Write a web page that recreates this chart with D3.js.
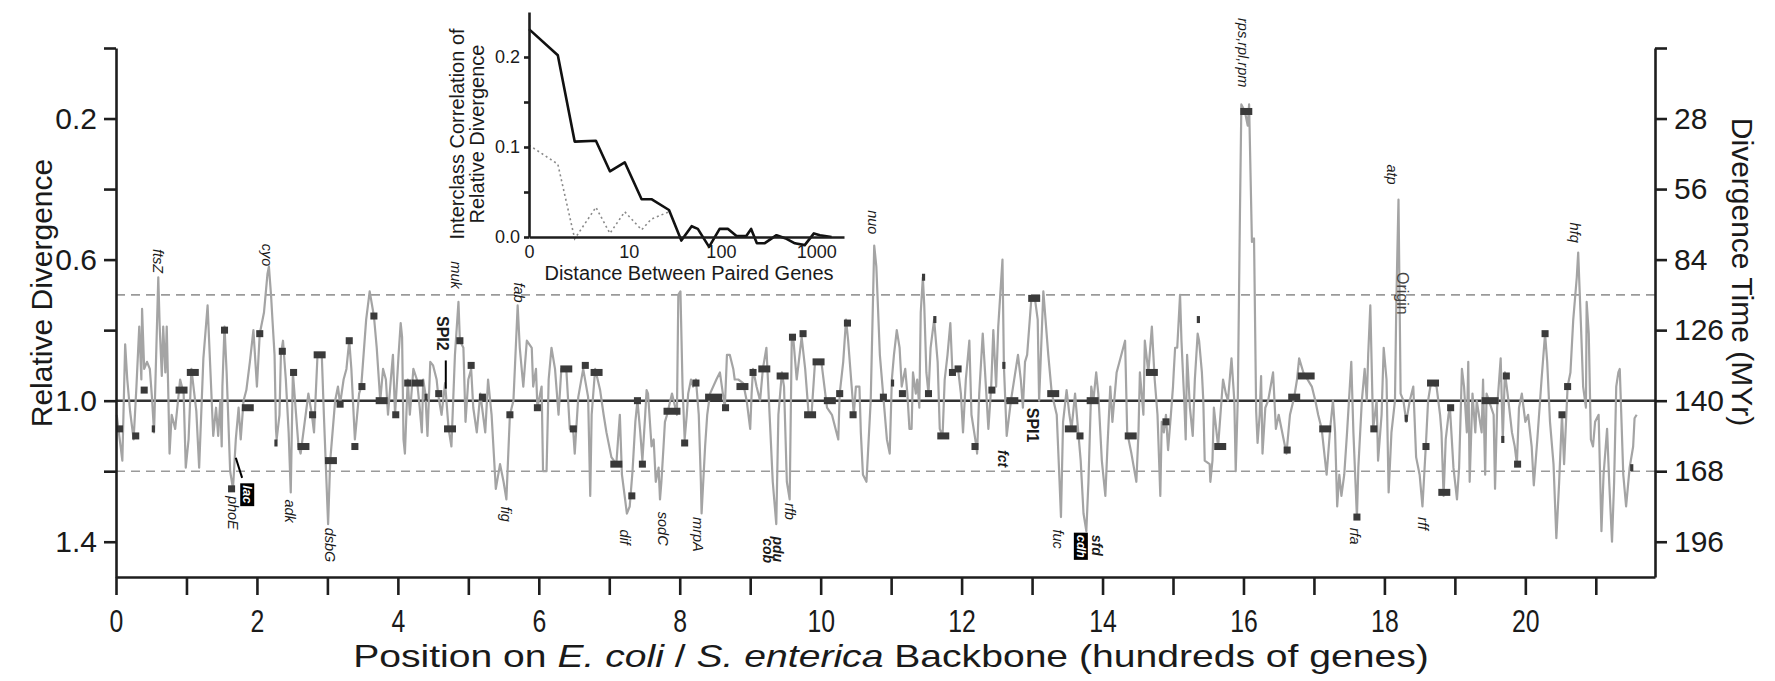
<!DOCTYPE html>
<html>
<head>
<meta charset="utf-8">
<script src="https://cdn.jsdelivr.net/npm/d3@7"></script>
<style>
  body { margin: 0; background: #fff; }
  svg { display: block; font-family: "Liberation Sans", Arial, sans-serif; }
</style>
</head>
<body>
<svg id="chart" width="1775" height="681"></svg>
<script>
// ---------------------------------------------------------------------------
// Relative divergence along the E. coli / S. enterica backbone, with an inset
// of the interclass correlation vs. distance between paired genes.
// ---------------------------------------------------------------------------

// position (hundreds of genes), relative divergence
const divergence = [
  [0.01,1.04],[0.09,1.17],[0.13,0.84],[0.16,0.94],[0.20,1.03],[0.25,1.11],[0.29,0.96],[0.33,0.79],[0.36,0.94],[0.37,0.74],
  [0.40,0.91],[0.44,0.89],[0.48,0.91],[0.51,0.99],[0.54,1.09],[0.60,0.65],[0.62,0.79],[0.65,0.93],[0.67,0.79],[0.70,0.92],
  [0.72,0.79],[0.74,0.96],[0.76,1.15],[0.79,1.04],[0.84,1.08],[0.91,0.94],[0.96,0.98],[0.99,1.19],[1.03,1.11],[1.07,0.91],
  [1.14,1.03],[1.18,1.19],[1.24,0.88],[1.30,0.73],[1.33,0.87],[1.38,1.10],[1.42,1.02],[1.45,1.10],[1.48,1.00],[1.50,1.13],
  [1.51,0.96],[1.54,0.79],[1.57,0.92],[1.62,1.20],[1.66,1.25],[1.70,1.11],[1.74,1.02],[1.77,1.11],[1.81,1.00],[1.85,0.97],
  [1.90,0.89],[1.95,0.80],[2.00,0.96],[2.04,0.81],[2.10,0.75],[2.15,0.64],[2.17,0.62],[2.20,0.70],[2.22,0.77],[2.25,0.87],
  [2.27,1.08],[2.28,1.11],[2.32,1.04],[2.34,0.87],[2.37,0.83],[2.41,0.94],[2.45,1.09],[2.48,1.26],[2.51,0.92],[2.59,1.13],
  [2.62,1.15],[2.73,0.98],[2.78,1.04],[2.81,1.09],[2.86,0.87],[2.92,0.87],[2.95,1.04],[3.01,1.35],[3.04,1.17],[3.11,1.00],
  [3.15,0.96],[3.18,1.01],[3.23,0.94],[3.27,0.91],[3.31,0.83],[3.34,0.91],[3.39,1.11],[3.45,0.98],[3.48,0.96],[3.55,0.77],
  [3.60,0.69],[3.66,0.76],[3.70,0.85],[3.75,1.00],[3.79,0.91],[3.83,0.94],[3.86,1.04],[3.90,0.94],[3.93,0.87],[3.96,1.04],
  [4.01,0.87],[4.04,0.78],[4.06,0.82],[4.08,1.11],[4.10,1.15],[4.13,0.99],[4.14,0.94],[4.17,1.04],[4.22,0.91],[4.27,0.94],
  [4.31,1.02],[4.34,1.09],[4.36,0.94],[4.39,0.98],[4.42,1.10],[4.46,0.89],[4.50,0.90],[4.55,0.94],[4.57,0.98],[4.62,1.04],
  [4.67,0.95],[4.72,1.08],[4.76,1.13],[4.81,0.87],[4.86,0.72],[4.88,0.83],[4.93,0.85],[4.96,1.06],[5.00,0.94],[5.04,0.91],
  [5.07,1.02],[5.12,1.09],[5.17,0.98],[5.24,1.09],[5.28,0.94],[5.33,1.04],[5.39,1.25],[5.45,1.18],[5.50,1.23],[5.54,1.28],
  [5.59,1.04],[5.64,1.00],[5.70,0.73],[5.73,0.85],[5.78,0.96],[5.83,0.83],[5.90,0.85],[5.92,0.96],[5.96,0.91],[5.98,1.02],
  [6.04,0.96],[6.06,1.20],[6.11,1.20],[6.14,0.94],[6.18,0.85],[6.23,0.91],[6.28,1.04],[6.32,0.91],[6.39,0.91],[6.44,1.08],
  [6.49,1.09],[6.51,1.15],[6.56,0.99],[6.63,0.91],[6.70,0.99],[6.73,1.27],[6.75,1.04],[6.80,0.91],[6.87,0.97],[6.92,1.04],
  [6.96,1.09],[7.03,1.16],[7.10,1.18],[7.15,1.04],[7.18,1.21],[7.25,1.32],[7.29,1.30],[7.33,1.20],[7.37,1.06],[7.40,1.00],
  [7.44,1.09],[7.47,1.17],[7.51,1.04],[7.53,0.97],[7.55,0.98],[7.60,1.13],[7.63,1.11],[7.66,1.23],[7.70,1.19],[7.72,1.28],
  [7.74,1.23],[7.77,1.13],[7.79,1.06],[7.82,1.04],[7.89,0.98],[7.96,1.04],[7.98,0.70],[8.01,0.69],[8.04,0.96],[8.07,1.11],
  [8.10,1.04],[8.12,0.98],[8.16,0.94],[8.19,0.96],[8.23,0.94],[8.27,1.04],[8.30,1.23],[8.31,1.32],[8.36,1.13],[8.39,1.04],
  [8.43,0.98],[8.52,0.94],[8.57,0.92],[8.64,1.02],[8.67,0.87],[8.71,0.87],[8.76,0.91],[8.78,0.94],[8.83,0.94],[8.90,0.95],
  [8.95,1.00],[9.00,1.08],[9.02,0.98],[9.04,0.91],[9.09,0.96],[9.14,1.00],[9.18,0.91],[9.23,0.85],[9.28,1.06],[9.32,1.23],
  [9.37,1.35],[9.40,1.04],[9.45,0.92],[9.48,0.96],[9.52,1.23],[9.56,1.28],[9.59,0.82],[9.61,0.82],[9.66,0.94],[9.73,0.82],
  [9.78,0.91],[9.83,1.04],[9.87,1.04],[9.92,0.89],[10.01,0.89],[10.09,1.02],[10.16,1.04],[10.25,1.11],[10.27,0.98],[10.32,0.89],
  [10.36,0.77],[10.39,0.83],[10.44,0.96],[10.47,1.04],[10.50,0.96],[10.55,0.96],[10.57,1.09],[10.60,1.21],[10.65,1.23],[10.71,1.00],
  [10.76,0.56],[10.79,0.62],[10.84,0.87],[10.89,0.99],[10.94,1.11],[10.98,1.15],[11.01,0.94],[11.04,0.87],[11.08,0.80],[11.12,0.85],
  [11.15,0.96],[11.20,0.91],[11.23,0.98],[11.26,1.08],[11.29,1.08],[11.31,0.92],[11.35,0.98],[11.37,0.94],[11.40,1.02],[11.42,0.75],
  [11.45,0.65],[11.47,0.73],[11.50,0.92],[11.53,0.98],[11.56,0.85],[11.61,0.77],[11.66,0.89],[11.69,1.08],[11.73,1.10],[11.76,0.94],
  [11.80,0.87],[11.84,0.78],[11.87,0.92],[11.95,0.91],[11.99,0.98],[12.02,1.09],[12.06,0.94],[12.11,0.83],[12.14,1.04],[12.21,1.13],
  [12.22,1.15],[12.25,0.98],[12.30,0.81],[12.33,0.91],[12.38,1.08],[12.42,0.96],[12.45,0.80],[12.49,0.96],[12.52,0.79],[12.58,0.60],
  [12.60,0.90],[12.64,1.10],[12.70,1.00],[12.80,0.87],[12.84,0.94],[12.87,1.02],[12.90,0.89],[12.93,0.87],[12.99,0.71],[13.04,0.71],
  [13.08,0.77],[13.10,1.00],[13.16,0.69],[13.23,0.87],[13.28,0.98],[13.35,1.04],[13.39,1.23],[13.41,1.33],[13.44,1.06],[13.49,0.97],
  [13.53,1.04],[13.56,1.08],[13.61,0.98],[13.66,1.10],[13.69,1.17],[13.73,1.32],[13.77,1.37],[13.80,1.23],[13.84,0.96],[13.87,1.00],
  [13.91,0.92],[13.94,0.98],[13.99,1.17],[14.04,1.27],[14.07,1.13],[14.11,0.96],[14.14,1.06],[14.20,0.92],[14.32,0.83],[14.35,1.09],
  [14.41,1.15],[14.48,1.23],[14.51,1.09],[14.53,0.92],[14.58,1.04],[14.60,0.83],[14.65,0.92],[14.70,0.79],[14.74,0.94],[14.78,1.04],
  [14.82,1.27],[14.84,1.06],[14.87,1.09],[14.90,1.04],[14.93,1.14],[14.97,1.04],[15.00,0.96],[15.01,0.92],[15.03,0.85],[15.06,0.85],
  [15.10,0.70],[15.12,0.83],[15.15,0.96],[15.16,1.00],[15.18,1.11],[15.20,0.87],[15.24,1.02],[15.28,1.10],[15.31,0.94],[15.35,0.81],
  [15.37,0.83],[15.41,0.92],[15.43,1.00],[15.45,1.17],[15.52,1.18],[15.53,1.23],[15.56,1.17],[15.58,1.02],[15.64,1.13],[15.71,0.94],
  [15.75,0.98],[15.78,1.00],[15.83,0.88],[15.87,1.00],[15.89,1.20],[15.92,0.99],[15.95,0.47],[15.97,0.16],[16.02,0.18],[16.06,0.22],
  [16.08,0.16],[16.12,0.55],[16.15,0.54],[16.18,1.03],[16.20,1.12],[16.23,1.04],[16.25,0.93],[16.27,1.15],[16.31,1.02],[16.35,1.00],
  [16.42,0.92],[16.46,1.08],[16.50,1.04],[16.57,1.11],[16.61,1.15],[16.66,1.04],[16.72,0.99],[16.76,0.94],[16.79,0.88],[16.85,0.92],
  [16.97,0.96],[17.02,1.00],[17.06,1.04],[17.11,1.08],[17.18,1.21],[17.23,1.08],[17.27,1.00],[17.30,1.09],[17.33,1.30],[17.36,1.21],
  [17.39,1.27],[17.43,1.21],[17.47,1.09],[17.53,0.89],[17.56,1.09],[17.61,1.33],[17.63,1.19],[17.68,1.00],[17.72,0.91],[17.75,1.00],
  [17.77,0.87],[17.80,0.73],[17.84,1.08],[17.89,1.00],[17.91,1.17],[17.96,1.04],[17.99,0.85],[18.03,0.94],[18.06,1.26],[18.10,1.09],
  [18.15,1.00],[18.17,0.71],[18.20,0.43],[18.23,0.98],[18.27,1.00],[18.31,1.06],[18.36,1.00],[18.41,0.96],[18.45,1.16],[18.50,1.21],
  [18.54,1.30],[18.59,1.12],[18.62,1.00],[18.66,0.95],[18.74,0.96],[18.79,1.04],[18.81,1.09],[18.84,1.27],[18.87,1.11],[18.91,1.04],
  [18.93,1.02],[18.98,1.19],[19.03,1.28],[19.06,1.19],[19.10,0.91],[19.13,0.96],[19.17,1.09],[19.19,0.89],[19.21,1.23],[19.25,0.98],
  [19.29,1.09],[19.31,1.00],[19.38,1.09],[19.40,0.94],[19.43,1.21],[19.45,0.98],[19.55,1.04],[19.57,1.25],[19.60,1.02],[19.65,0.88],
  [19.68,1.11],[19.71,0.92],[19.76,1.00],[19.81,1.09],[19.85,1.13],[19.88,1.18],[19.91,1.02],[19.95,0.98],[20.00,1.06],[20.04,1.04],
  [20.09,1.13],[20.12,1.24],[20.17,1.11],[20.23,0.94],[20.28,0.81],[20.31,0.89],[20.35,1.06],[20.40,1.18],[20.44,1.39],[20.48,1.23],
  [20.52,1.04],[20.55,1.18],[20.60,0.96],[20.64,0.92],[20.68,0.77],[20.73,0.65],[20.75,0.58],[20.79,0.79],[20.82,0.96],[20.86,1.02],
  [20.87,0.72],[20.90,0.81],[20.93,1.11],[20.96,1.13],[20.99,1.06],[21.04,1.04],[21.08,1.37],[21.11,1.21],[21.16,1.08],[21.19,1.23],
  [21.23,1.40],[21.26,1.23],[21.29,0.96],[21.32,0.92],[21.34,0.91],[21.39,1.21],[21.43,1.30],[21.48,1.19],[21.53,1.13],[21.55,1.05],
  [21.58,1.04]
];

// dark square markers: position, value, width class (0 tiny, 1 single, 2 double, 3 triple)
const markers = [
  [0.05,1.08,1],[0.28,1.10,1],[0.40,0.97,1],[0.53,1.08,0],[0.93,0.97,2],[1.09,0.92,2],[1.54,0.80,1],[1.64,1.25,1],
  [1.87,1.02,2],[2.04,0.81,1],[2.27,1.12,0],[2.36,0.86,1],[2.52,0.92,1],[2.66,1.13,2],[2.79,1.04,1],[2.89,0.87,2],
  [3.05,1.17,2],[3.18,1.01,1],[3.31,0.83,1],[3.39,1.13,1],[3.49,0.96,1],[3.66,0.76,1],[3.77,1.00,2],[3.97,1.04,1],
  [4.14,0.95,1],[4.28,0.95,2],[4.40,0.99,0],[4.58,0.98,1],[4.74,1.08,2],[4.88,0.83,1],[5.04,0.90,1],[5.20,0.99,1],
  [5.59,1.04,1],[5.98,1.02,1],[6.39,0.91,2],[6.49,1.08,1],[6.66,0.90,1],[6.82,0.92,2],[7.10,1.18,2],[7.32,1.27,1],
  [7.40,1.00,1],[7.47,1.18,1],[7.89,1.03,3],[8.07,1.12,1],[8.23,0.95,1],[8.48,0.99,3],[8.65,1.02,1],[8.89,0.96,2],
  [9.04,0.92,1],[9.20,0.91,2],[9.46,0.93,2],[9.60,0.82,1],[9.75,0.81,1],[9.85,1.04,2],[9.97,0.89,2],[10.13,1.00,2],
  [10.27,0.98,1],[10.38,0.78,1],[10.46,1.04,1],[10.89,0.99,1],[11.02,0.95,0],[11.16,0.98,1],[11.46,0.65,0],[11.53,0.98,1],
  [11.62,0.77,0],[11.74,1.10,2],[11.87,0.92,1],[11.95,0.91,1],[12.19,1.13,1],[12.43,0.97,1],[12.60,0.90,0],[12.72,1.00,2],
  [13.03,0.71,2],[13.30,0.98,2],[13.55,1.08,2],[13.68,1.10,1],[13.86,1.00,2],[14.40,1.10,2],[14.70,0.92,2],[14.90,1.06,1],
  [15.36,0.77,0],[15.67,1.13,2],[16.04,0.18,2],[16.62,1.14,1],[16.72,0.99,2],[16.89,0.93,3],[17.16,1.08,2],[17.61,1.33,1],
  [17.85,1.08,1],[18.31,1.05,0],[18.59,1.13,1],[18.69,0.95,2],[18.85,1.26,2],[18.94,1.02,1],[19.50,1.00,3],[19.68,1.11,0],
  [19.73,0.93,1],[19.89,1.18,1],[20.28,0.81,1],[20.52,1.04,1],[20.60,0.96,1],[21.51,1.19,0]
];
const markerSpans = [0.045, 0.1, 0.17, 0.24];

// gene / island labels: text, position, value where the (rotated) text starts, kind
const geneLabels = [
  ["ftsZ", 0.60, 0.57, "i"], ["cyo", 2.14, 0.555, "i"], ["phoE", 1.66, 1.27, "i"], ["lac", 1.87, 1.24, "box"],
  ["adk", 2.47, 1.28, "i"], ["dsbG", 3.04, 1.36, "i"], ["muk", 4.82, 0.605, "i"], ["SPI2", 4.64, 0.76, "b"],
  ["fab", 5.72, 0.665, "i"], ["fig", 5.53, 1.30, "i"], ["dif", 7.22, 1.365, "i"], ["sodC", 7.76, 1.315, "i"],
  ["mrpA", 8.26, 1.33, "i"], ["rfb", 9.56, 1.29, "i"], ["pdu", 9.39, 1.385, "bi"], ["cob", 9.25, 1.39, "bi"],
  ["nuo", 10.74, 0.46, "i"], ["SPI1", 13.01, 1.02, "b"], ["fct", 12.59, 1.14, "bi"], ["fuc", 13.37, 1.365, "i"],
  ["cdh", 13.70, 1.38, "box"], ["sfd", 13.92, 1.38, "bi"], ["rps,rpl,rpm", 15.99, -0.085, "i"],
  ["atp", 18.11, 0.33, "i"], ["Origin", 18.26, 0.635, "plain"], ["rfa", 17.58, 1.36, "i"],
  ["rff", 18.55, 1.33, "i"], ["hfq", 20.70, 0.495, "i"]
];
const labelSizes = { i: 14.5, b: 16, bi: 14, box: 13, plain: 16 };

// short leader lines next to lac and SPI2
const leaders = [
  [[1.70, 1.162], [1.79, 1.219]],
  [[4.68, 0.886], [4.68, 0.966]]
];

const thresholds = [0.7, 1.2];
const baselineValue = 1.0;

const yTickValues = [0, 0.2, 0.4, 0.6, 0.8, 1.0, 1.2, 1.4];
const leftTickLabels = ["", "0.2", "", "0.6", "", "1.0", "", "1.4"];
const rightTickLabels = ["", "28", "56", "84", "126", "140", "168", "196"];
const xTickValues = [0,1,2,3,4,5,6,7,8,9,10,11,12,13,14,15,16,17,18,19,20,21];

// inset: interclass correlation vs. distance
const corrDistance = [0,1,2,4,6,9,14,18,28,38,49,57,75,97,119,146,185,208,239,287,384,489,598,758,945,1093,1445];
const corrAll = [0.231,0.202,0.106,0.107,0.073,0.083,0.042,0.042,0.030,-0.004,0.012,0.009,-0.011,0.009,0.009,
                 0.001,0.001,0.009,-0.007,-0.007,0.002,-0.002,-0.007,-0.009,0.004,0.002,0.0];
const corrDistanceDotted = [0,1,2,4,6,9,14,18,28];
const corrDotted = [0.102,0.081,-0.002,0.033,0.004,0.028,0.008,0.020,0.028];
const insetYTicks = [0, 0.05, 0.1, 0.15, 0.2];
const insetYLabels = ["0.0", "", "0.1", "", "0.2"];
const insetXTicks = [0, 10, 100, 1000];

// ---------------------------------------------------------------------------
const svg = d3.select("#chart");
const AXIS = "#1e1e1e";

const x = d3.scaleLinear().domain([0, 21.84]).range([116, 1655]);
const y = d3.scaleLinear().domain([0, 1.5]).range([48, 577]);

// dashed thresholds and solid baseline
svg.selectAll("line.thr").data(thresholds).join("line")
  .attr("class", "thr")
  .attr("x1", x(0)).attr("x2", x(21.84))
  .attr("y1", (d) => y(d)).attr("y2", (d) => y(d))
  .attr("stroke", "#9a9a9a").attr("stroke-width", 1.6).attr("stroke-dasharray", "9,6");

svg.append("line")
  .attr("x1", x(0)).attr("x2", x(21.84))
  .attr("y1", y(baselineValue)).attr("y2", y(baselineValue))
  .attr("stroke", "#333").attr("stroke-width", 2.5);

// divergence trace
svg.append("path").datum(divergence)
  .attr("fill", "none")
  .attr("stroke", "#a4a4a4")
  .attr("stroke-width", 2.2)
  .attr("stroke-linejoin", "round")
  .attr("d", d3.line().x((d) => x(d[0])).y((d) => y(d[1])));

// markers
svg.selectAll("rect.mk").data(markers).join("rect")
  .attr("class", "mk")
  .attr("x", (d) => x(d[0] - markerSpans[d[2]] / 2))
  .attr("width", (d) => x(markerSpans[d[2]]) - x(0))
  .attr("y", (d) => y(d[1]) - 3.5)
  .attr("height", 7)
  .attr("fill", "#3a3a3a");

// axes
function styleAxis(g, size) {
  g.selectAll("path.domain").attr("stroke", AXIS).attr("stroke-width", 2.6);
  g.selectAll(".tick line").attr("stroke", AXIS).attr("stroke-width", 2.6);
  g.selectAll(".tick text").attr("fill", "#1a1a1a").style("font-size", size + "px");
}

const gLeft = svg.append("g").attr("transform", `translate(${x(0)},0)`)
  .call(d3.axisLeft(y).tickValues(yTickValues).tickFormat((d, i) => leftTickLabels[i])
    .tickSize(12).tickSizeOuter(0).tickPadding(7));
styleAxis(gLeft, 30);

const gRight = svg.append("g").attr("transform", `translate(${x(21.84)},0)`)
  .call(d3.axisRight(y).tickValues(yTickValues).tickFormat((d, i) => rightTickLabels[i])
    .tickSize(12).tickSizeOuter(0).tickPadding(7));
styleAxis(gRight, 30);

const gBottom = svg.append("g").attr("transform", `translate(0,${y(1.5)})`)
  .call(d3.axisBottom(x).tickValues(xTickValues).tickFormat((d) => (d % 2 === 0 ? d : ""))
    .tickSize(18).tickSizeOuter(0).tickPadding(15));
styleAxis(gBottom, 31);
gBottom.selectAll(".tick text").attr("transform", "scale(0.8,1)");

// axis titles
svg.append("text")
  .attr("transform", "translate(41,293) rotate(-90)")
  .attr("text-anchor", "middle").attr("dy", "0.35em")
  .style("font-size", "30px").attr("fill", "#1a1a1a")
  .text("Relative Divergence");

svg.append("text")
  .attr("transform", "translate(1742,272) rotate(90)")
  .attr("text-anchor", "middle").attr("dy", "0.35em")
  .style("font-size", "30px").attr("fill", "#1a1a1a")
  .text("Divergence Time (MYr)");

const xTitle = svg.append("text")
  .attr("text-anchor", "middle")
  .style("font-size", "32px").attr("fill", "#1a1a1a");
xTitle.append("tspan").text("Position on ");
xTitle.append("tspan").style("font-style", "italic").text("E. coli");
xTitle.append("tspan").text(" / ");
xTitle.append("tspan").style("font-style", "italic").text("S. enterica");
xTitle.append("tspan").text(" Backbone (hundreds of genes)");
const natural = xTitle.node().getComputedTextLength();
xTitle.attr("transform", `translate(891,667) scale(${1076 / natural},1)`);

// gene labels (rotated to read downward)
const gLab = svg.append("g");
geneLabels.forEach(([txt, p, v, kind]) => {
  const g = gLab.append("g").attr("transform", `translate(${x(p)},${y(v)}) rotate(90)`);
  const t = g.append("text").attr("dy", "0.35em").text(txt)
    .style("font-size", labelSizes[kind] + "px")
    .style("font-style", kind === "i" || kind === "bi" || kind === "box" ? "italic" : "normal")
    .style("font-weight", kind === "b" || kind === "bi" || kind === "box" ? "bold" : "normal")
    .attr("fill", kind === "plain" ? "#444" : "#1a1a1a");
  if (kind === "box") {
    const bb = t.node().getBBox();
    g.insert("rect", "text")
      .attr("x", bb.x - 2).attr("y", bb.y + 1)
      .attr("width", bb.width + 4).attr("height", bb.height - 1)
      .attr("fill", "#000");
    t.attr("fill", "#fff");
  }
});

svg.selectAll("line.leader").data(leaders).join("line")
  .attr("class", "leader")
  .attr("x1", (d) => x(d[0][0])).attr("y1", (d) => y(d[0][1]))
  .attr("x2", (d) => x(d[1][0])).attr("y2", (d) => y(d[1][1]))
  .attr("stroke", "#000").attr("stroke-width", 2);

// ---------------------------------------------------------------------------
// inset
const xi = d3.scaleLog().domain([1, 1951]).range([529, 844]);   // distance + 1
const yi = d3.scaleLinear().domain([0, 0.25]).range([237, 12]);

const gInset = svg.append("g");

gInset.append("path")
  .datum(corrDistanceDotted.map((d, i) => [d, corrDotted[i]]))
  .attr("fill", "none").attr("stroke", "#8a8a8a").attr("stroke-width", 1.6)
  .attr("stroke-dasharray", "2,3")
  .attr("d", d3.line().x((d) => xi(d[0] + 1)).y((d) => yi(d[1])));

gInset.append("path")
  .datum(corrDistance.map((d, i) => [d, corrAll[i]]))
  .attr("fill", "none").attr("stroke", "#111").attr("stroke-width", 2.6)
  .attr("stroke-linejoin", "round")
  .attr("d", d3.line().x((d) => xi(d[0] + 1)).y((d) => yi(d[1])));

const giy = gInset.append("g").attr("transform", `translate(${xi(1)},0)`)
  .call(d3.axisLeft(yi).tickValues(insetYTicks).tickFormat((d, i) => insetYLabels[i])
    .tickSize(5).tickSizeOuter(0).tickPadding(4));
styleAxis(giy, 18);

const gix = gInset.append("g").attr("transform", `translate(0,${yi(0)})`)
  .call(d3.axisBottom(xi).tickValues(insetXTicks.map((d) => d + 1)).tickFormat((d) => d - 1)
    .tickSize(0).tickSizeOuter(0).tickPadding(8));
styleAxis(gix, 18);

gInset.append("text")
  .attr("x", 689).attr("y", 280).attr("text-anchor", "middle")
  .style("font-size", "20px").attr("fill", "#1a1a1a")
  .text("Distance Between Paired Genes");

gInset.append("text")
  .attr("transform", "translate(457,134) rotate(-90)")
  .attr("text-anchor", "middle").attr("dy", "0.35em")
  .style("font-size", "20px").attr("fill", "#1a1a1a")
  .text("Interclass Correlation of");
gInset.append("text")
  .attr("transform", "translate(477,134) rotate(-90)")
  .attr("text-anchor", "middle").attr("dy", "0.35em")
  .style("font-size", "20px").attr("fill", "#1a1a1a")
  .text("Relative Divergence");
</script>
</body>
</html>
